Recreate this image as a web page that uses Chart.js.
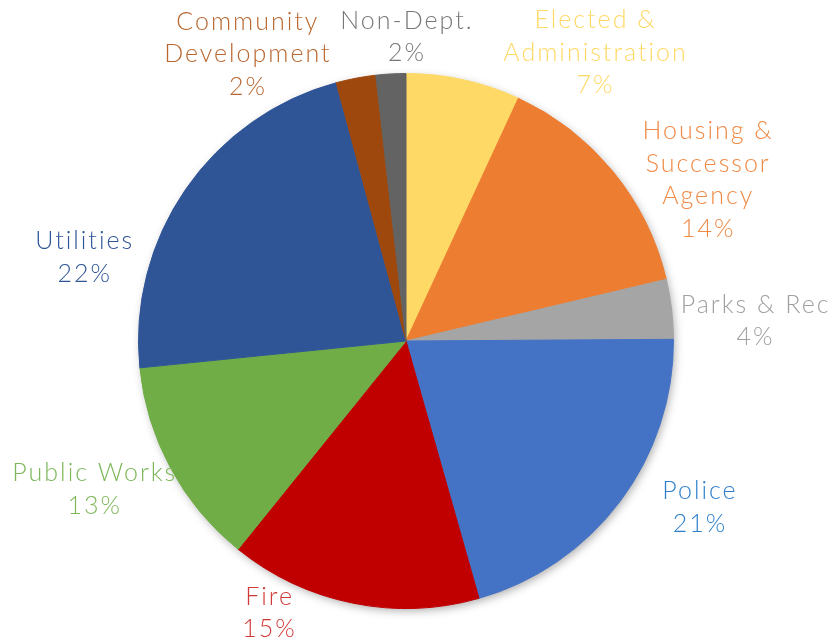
<!DOCTYPE html>
<html>
<head>
<meta charset="utf-8">
<title>Budget by Department</title>
<script src="https://cdn.jsdelivr.net/npm/chart.js@4"></script>
<style>
  html, body { margin: 0; padding: 0; background: #fff; }
  #wrap { width: 832px; height: 642px; position: relative; }
</style>
</head>
<body>
<div id="wrap"><canvas id="pieChart" width="832" height="642"></canvas></div>
<script>
// data, clockwise from 12 o'clock
const departments = [
  ['Elected &', 'Administration'],
  ['Housing &', 'Successor', 'Agency'],
  ['Parks & Rec'],
  ['Police'],
  ['Fire'],
  ['Public Works'],
  ['Utilities'],
  ['Community', 'Development'],
  ['Non-Dept.']
];
const shares = [6.9, 14.4, 3.6, 20.7, 15.2, 12.6, 22.4, 2.4, 1.8];

const sliceColors = ['#FFD966', '#ED7D31', '#A5A5A5', '#4472C4', '#C00000', '#70AD47', '#2F5597', '#9E480E', '#636363'];
const labelColors = ['#FFD966', '#F08A45', '#A0A0A0', '#2E7FCB', '#D23A3A', '#7DB75A', '#2F5597', '#B9672F', '#787878'];
// nudge of each label block from the outer middle of its slice
const labelNudge = [[131, -27], [94, 8], [83, 12], [79, 6], [-84, 10], [-77, 21], [-102, 68], [-109, -24], [15, -37]];

// soft shadow under the pie
const pieShadow = {
  id: 'pieShadow',
  beforeDatasetsDraw(chart) {
    const arc = chart.getDatasetMeta(0).data[0];
    if (!arc) return;
    const ctx = chart.ctx;
    ctx.save();
    ctx.shadowColor = 'rgba(0,0,0,0.35)';
    ctx.shadowBlur = 10;
    ctx.shadowOffsetX = 2;
    ctx.shadowOffsetY = 3;
    ctx.fillStyle = '#fff';
    ctx.beginPath();
    ctx.arc(arc.x, arc.y, arc.outerRadius - 1, 0, Math.PI * 2);
    ctx.fill();
    ctx.restore();
  }
};

// category + percent labels outside the slices
const outsideLabels = {
  id: 'outsideLabels',
  afterDatasetsDraw(chart) {
    const ctx = chart.ctx;
    const meta = chart.getDatasetMeta(0);
    const total = shares.reduce((a, b) => a + b, 0);
    const lineH = 32.5;
    const spacing = 2;
    ctx.save();
    ctx.font = '300 25px "Lato", "Open Sans", sans-serif';
    ctx.letterSpacing = spacing + 'px';
    ctx.textAlign = 'center';
    ctx.textBaseline = 'middle';
    meta.data.forEach((arc, i) => {
      const mid = (arc.startAngle + arc.endAngle) / 2;
      const ox = arc.x + arc.outerRadius * Math.cos(mid);
      const oy = arc.y + arc.outerRadius * Math.sin(mid);
      const cx = ox + labelNudge[i][0] + spacing / 2;
      const cy = oy + labelNudge[i][1];
      const lines = departments[i].concat([Math.round(shares[i] / total * 100) + '%']);
      const top = cy - (lines.length - 1) * lineH / 2;
      ctx.fillStyle = labelColors[i];
      lines.forEach((t, j) => ctx.fillText(t, cx, top + j * lineH));
    });
    ctx.restore();
  }
};

new Chart(document.getElementById('pieChart'), {
  type: 'pie',
  data: {
    labels: departments.map(d => d.join(' ')),
    datasets: [{
      data: shares,
      backgroundColor: sliceColors,
      borderColor: sliceColors,
      borderWidth: 1
    }]
  },
  options: {
    responsive: false,
    animation: false,
    layout: { padding: { top: 73, bottom: 33, left: 0, right: 20 } },
    plugins: {
      legend: { display: false },
      tooltip: { enabled: false }
    }
  },
  plugins: [pieShadow, outsideLabels]
});
</script>
</body>
</html>
